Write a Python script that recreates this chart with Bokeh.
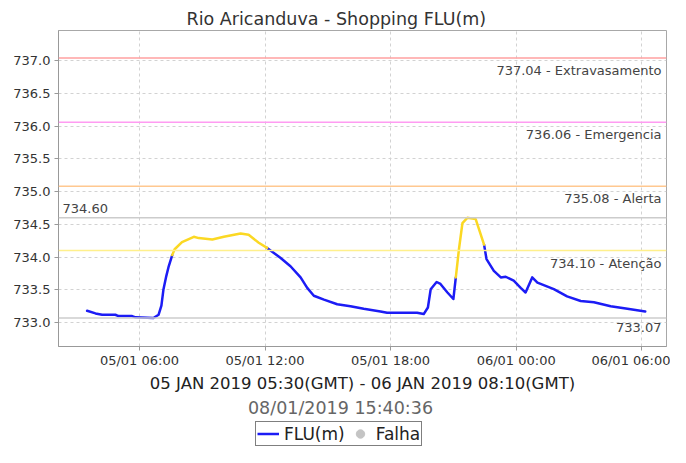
import numpy as np
import pandas as pd
from bokeh.plotting import figure
from bokeh.layouts import column
from bokeh.models import (Range1d, FixedTicker, DatetimeTickFormatter, Span, Label,
                          Legend, LegendItem, ColumnDataSource, NumeralTickFormatter)
from bokeh.embed import file_html
from bokeh.resources import INLINE

# ---------------- data ----------------
title_text = "Rio Aricanduva - Shopping FLU(m)"
x_axis_text = "05 JAN 2019 05:30(GMT) - 06 JAN 2019 08:10(GMT)"
timestamp_text = "08/01/2019 15:40:36"
series_name = "FLU(m)"
fail_name = "Falha"

times = [
    "2019-01-05 03:30", "2019-01-05 03:54", "2019-01-05 04:13", "2019-01-05 04:51",
    "2019-01-05 05:00", "2019-01-05 05:39", "2019-01-05 05:49", "2019-01-05 06:40",
    "2019-01-05 06:55", "2019-01-05 07:03", "2019-01-05 07:09", "2019-01-05 07:17",
    "2019-01-05 07:24", "2019-01-05 07:34", "2019-01-05 07:41", "2019-01-05 08:02",
    "2019-01-05 08:36", "2019-01-05 08:50", "2019-01-05 09:29", "2019-01-05 10:02",
    "2019-01-05 10:50", "2019-01-05 11:13", "2019-01-05 11:42", "2019-01-05 12:06",
    "2019-01-05 12:44", "2019-01-05 13:13", "2019-01-05 13:42", "2019-01-05 14:01",
    "2019-01-05 14:20", "2019-01-05 14:49", "2019-01-05 15:27", "2019-01-05 16:05",
    "2019-01-05 16:43", "2019-01-05 17:31", "2019-01-05 17:50", "2019-01-05 19:16",
    "2019-01-05 19:35", "2019-01-05 19:47", "2019-01-05 19:55", "2019-01-05 20:12",
    "2019-01-05 20:23", "2019-01-05 20:43", "2019-01-05 21:00", "2019-01-05 21:07",
    "2019-01-05 21:16", "2019-01-05 21:26", "2019-01-05 21:40", "2019-01-05 22:04",
    "2019-01-05 22:28", "2019-01-05 22:35", "2019-01-05 22:56", "2019-01-05 23:16",
    "2019-01-05 23:30", "2019-01-05 23:53", "2019-01-06 00:13", "2019-01-06 00:27",
    "2019-01-06 00:46", "2019-01-06 01:01", "2019-01-06 01:48", "2019-01-06 02:26",
    "2019-01-06 03:05", "2019-01-06 03:43", "2019-01-06 04:31", "2019-01-06 05:19",
    "2019-01-06 06:10",
]
levels = [
    733.18, 733.14, 733.12, 733.12,
    733.10, 733.10, 733.08, 733.07,
    733.12, 733.26, 733.51, 733.71,
    733.86, 734.03, 734.12, 734.23,
    734.31, 734.29, 734.27, 734.31,
    734.36, 734.34, 734.22, 734.14,
    733.99, 733.86, 733.69, 733.53,
    733.41, 733.35, 733.28, 733.25,
    733.21, 733.17, 733.15, 733.15,
    733.13, 733.23, 733.51, 733.62,
    733.59, 733.46, 733.36, 733.69,
    734.12, 734.52, 734.60, 734.58,
    734.19, 733.97, 733.79, 733.69,
    733.70, 733.64, 733.53, 733.46,
    733.69, 733.61, 733.51, 733.40,
    733.33, 733.31, 733.25, 733.21,
    733.17,
]
# failure ("Falha") readings: none in this period
fail_times = []
fail_levels = []

threshold_values = [737.04, 736.06, 735.08, 734.10]
threshold_names = ["Extravasamento", "Emergencia", "Alerta", "Atenção"]
threshold_colors = ["#ffa0a0", "#ff9cf2", "#ffc890", "#fff08c"]
max_level = 734.60
min_level = 733.07

y_ticks = [733.0, 733.5, 734.0, 734.5, 735.0, 735.5, 736.0, 736.5, 737.0]
x_ticks = ["2019-01-05 06:00", "2019-01-05 12:00", "2019-01-05 18:00",
           "2019-01-06 00:00", "2019-01-06 06:00"]
x_view = ["2019-01-05 02:08", "2019-01-06 07:11"]
y_view = [732.635, 737.46]

# ---------------- helpers ----------------
def to_ms(values):
    if len(values) == 0:
        return np.array([], dtype=float)
    idx = pd.to_datetime(values)
    return np.asarray((idx - pd.Timestamp("1970-01-01")) / pd.Timedelta(milliseconds=1), dtype=float)

xs = to_ms(times)
lv = np.asarray(levels, dtype=float)

BLUE = "#1c1cf5"
YELLOW = "#fbd823"
GREY_DOT = "#c4c4c4"
FONT = "DejaVu Sans"

# split line into coloured runs: a segment is yellow when its end point is above Atenção
alert = threshold_values[3]
runs = {"blue": ([], []), "yellow": ([], [])}
cur = None
for i in range(1, len(xs)):
    c = "yellow" if lv[i] > alert else "blue"
    if c != cur:
        runs[c][0].append([xs[i - 1]])
        runs[c][1].append([lv[i - 1]])
        cur = c
    runs[c][0][-1].append(xs[i])
    runs[c][1][-1].append(lv[i])

# ---------------- main figure ----------------
W = 670
H1, H2 = 395, 52
LEFT, RIGHT, TOP = 58, 4, 30
FRAME_BOTTOM = 348
FW = W - LEFT - RIGHT
CANVAS_CX = 340  # horizontal centre of the footer texts, in canvas pixels

xr = to_ms(x_view)
p = figure(width=W, height=H1, output_backend="svg", toolbar_location=None,
           x_range=Range1d(xr[0], xr[1]), y_range=Range1d(y_view[0], y_view[1]),
           min_border_left=LEFT, min_border_right=RIGHT,
           min_border_top=TOP, min_border_bottom=H1 - FRAME_BOTTOM,
           background_fill_color="white", border_fill_color="white")
p.outline_line_color = "#a8a8a8"
p.outline_line_width = 1

# title (shifted so it is centred on the canvas rather than on the frame)
p.title.text = title_text
p.title.align = "left"
p.title.offset = 128
p.title.text_font = FONT
p.title.text_font_size = "17.5px"
p.title.text_font_style = "normal"
p.title.text_color = "#333333"
p.title.standoff = 3

# axes
p.xaxis.ticker = FixedTicker(ticks=list(to_ms(x_ticks)))
fmt = "%d/%m %H:%M"
p.xaxis.formatter = DatetimeTickFormatter(hours=fmt, hourmin=fmt, days=fmt, minutes=fmt,
                                          minsec=fmt, seconds=fmt, months=fmt, years=fmt)
p.yaxis.ticker = FixedTicker(ticks=y_ticks)
p.yaxis.formatter = NumeralTickFormatter(format="0.0")
for ax in (p.xaxis, p.yaxis):
    ax.axis_line_color = "#999999"
    ax.major_tick_line_color = "#999999"
    ax.major_tick_out = 4
    ax.major_tick_in = 0
    ax.minor_tick_line_color = None
    ax.major_label_text_font = FONT
    ax.major_label_text_font_size = "13px"
    ax.major_label_text_color = "#333333"
p.yaxis.major_label_standoff = 4
p.xaxis.major_label_standoff = 2
p.xaxis.axis_label = x_axis_text
p.xaxis.axis_label_text_font = FONT
p.xaxis.axis_label_text_font_size = "16.5px"
p.xaxis.axis_label_text_font_style = "normal"
p.xaxis.axis_label_text_color = "#222222"
p.xaxis.axis_label_standoff = 3

# grid
for g in (p.xgrid, p.ygrid):
    g.grid_line_color = "#d2d2d2"
    g.grid_line_dash = "3 3"
    g.grid_line_width = 1

# threshold lines and labels
for val, name, col in zip(threshold_values, threshold_names, threshold_colors):
    p.add_layout(Span(location=val, dimension="width", line_color=col, line_width=1.5))
    p.add_layout(Label(x=FW - 5, y=val, x_units="screen", y_units="data",
                       text=f"{val:.2f} - {name}", text_align="right", text_baseline="top",
                       y_offset=-5, text_font=FONT, text_font_size="13px",
                       text_color="#444444"))

p.add_layout(Span(location=max_level, dimension="width", line_color="#cccccc", line_width=1.5))
p.add_layout(Span(location=min_level, dimension="width", line_color="#cccccc", line_width=1.5))
p.add_layout(Label(x=4, y=max_level, x_units="screen", y_units="data",
                   text=f"{max_level:.2f}", text_align="left", text_baseline="bottom",
                   y_offset=5, text_font=FONT, text_font_size="13px", text_color="#444444"))
p.add_layout(Label(x=FW - 5, y=min_level, x_units="screen", y_units="data",
                   text=f"{min_level:.2f}", text_align="right", text_baseline="top",
                   y_offset=-5, text_font=FONT, text_font_size="13px", text_color="#444444"))

# data line
p.multi_line(xs=runs["blue"][0], ys=runs["blue"][1], line_color=BLUE,
             line_width=2.5, line_join="round", line_cap="round")
p.multi_line(xs=runs["yellow"][0], ys=runs["yellow"][1], line_color=YELLOW,
             line_width=2.5, line_join="round", line_cap="round")
p.scatter(x=list(to_ms(fail_times)), y=fail_levels, size=8,
          fill_color=GREY_DOT, line_color=GREY_DOT)

# ---------------- footer: timestamp + legend ----------------
# (the column aligns this figure's frame with the main frame, starting at x = LEFT)
f = figure(width=W, height=H2, output_backend="svg", toolbar_location=None,
           x_range=Range1d(0, 1), y_range=Range1d(0, 1),
           x_axis_type=None, y_axis_type=None,
           min_border_left=LEFT, min_border_right=RIGHT, min_border_top=0, min_border_bottom=0,
           background_fill_color="white", border_fill_color="white")
f.outline_line_color = None
f.grid.visible = False

f.add_layout(Label(x=CANVAS_CX - LEFT, y=H2 - 12, x_units="screen", y_units="screen",
                   text=timestamp_text, text_align="center", text_baseline="middle",
                   text_font=FONT, text_font_size="17.5px", text_color="#666666"))

# legend sample glyphs (not plotted: NaN positions)
nan_src = ColumnDataSource(data=dict(x=[np.nan], y=[np.nan]))
flu_key = f.line(x="x", y="y", source=nan_src, line_color=BLUE, line_width=2.5)
fail_key = f.scatter(x="x", y="y", source=nan_src, size=9,
                     fill_color=GREY_DOT, line_color=GREY_DOT)

legend = Legend(items=[LegendItem(label=series_name, renderers=[flu_key]),
                       LegendItem(label=fail_name, renderers=[fail_key])],
                orientation="horizontal", location=(255 - LEFT, 1),
                label_text_font=FONT, label_text_font_size="17px", label_text_color="#222222",
                glyph_width=22, glyph_height=21, label_height=18, label_standoff=5,
                spacing=4, padding=1, margin=0,
                border_line_color="black", border_line_width=1,
                background_fill_color="white", background_fill_alpha=1)
f.add_layout(legend)

layout = column(p, f, spacing=0)
open("out.html", "w").write(file_html(layout, INLINE))
